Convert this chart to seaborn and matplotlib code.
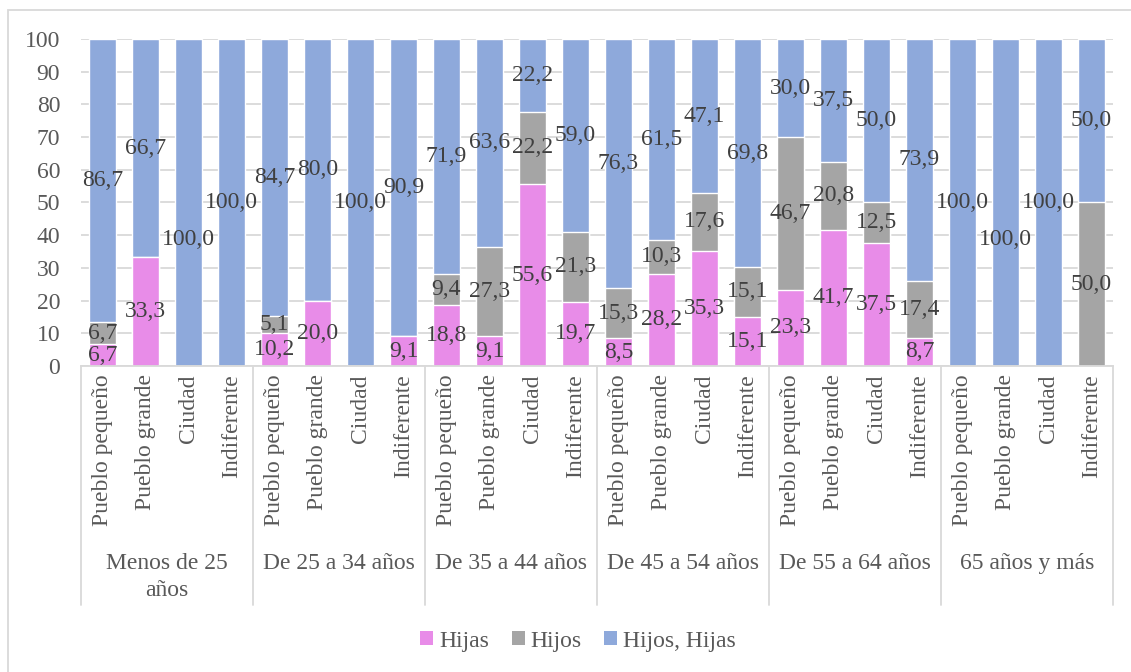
import matplotlib
matplotlib.use("Agg")
import matplotlib.pyplot as plt
import matplotlib.transforms as mtransforms
from matplotlib.patches import Patch, Rectangle
import numpy as np
import pandas as pd
import seaborn as sns

# Age groups and preferred place of residence
grupos = ["Menos de 25\naños", "De 25 a 34 años", "De 35 a 44 años",
          "De 45 a 54 años", "De 55 a 64 años", "65 años y más"]
lugares = ["Pueblo pequeño", "Pueblo grande", "Ciudad", "Indiferente"]

# Percentages per bar (group-major order)
hijas = [6.7, 33.3, 0.0, 0.0,
         10.2, 20.0, 0.0, 9.1,
         18.8, 9.1, 55.6, 19.7,
         8.5, 28.2, 35.3, 15.1,
         23.3, 41.7, 37.5, 8.7,
         0.0, 0.0, 0.0, 0.0]
hijos = [6.7, 0.0, 0.0, 0.0,
         5.1, 0.0, 0.0, 0.0,
         9.4, 27.3, 22.2, 21.3,
         15.3, 10.3, 17.6, 15.1,
         46.7, 20.8, 12.5, 17.4,
         0.0, 0.0, 0.0, 50.0]
ambos = [86.7, 66.7, 100.0, 100.0,
         84.7, 80.0, 100.0, 90.9,
         71.9, 63.6, 22.2, 59.0,
         76.3, 61.5, 47.1, 69.8,
         30.0, 37.5, 50.0, 73.9,
         100.0, 100.0, 100.0, 50.0]

series_names = ["Hijas", "Hijos", "Hijos, Hijas"]
colores = ["#E88CE8", "#A5A5A5", "#8EA9DB"]

sns.set_style("white")
plt.rcParams["font.family"] = ["Liberation Serif", "DejaVu Serif"]

FS = 17
TXT = "#404040"
AXC = "#595959"
LINE = "#D9D9D9"

W, H = 1131, 672
fig = plt.figure(figsize=(W / 100, H / 100), dpi=100)
ax = fig.add_axes([81 / W, 1 - 366 / H, (1113 - 81) / W, (366 - 39) / H])

n = len(grupos) * len(lugares)
slots = [f"{g}|{l}" for g in grupos for l in lugares]
df = pd.DataFrame({
    "slot": slots,
    "hijas": hijas,
    "hijos": hijos,
    "ambos": ambos,
})
df["cum_hijos"] = df["hijas"] + df["hijos"]
df["cum_total"] = df["cum_hijos"] + df["ambos"]

# Stacked bars drawn as overlaid cumulative layers
for col, c in zip(["cum_total", "cum_hijos", "hijas"], colores[::-1]):
    sns.barplot(data=df, x="slot", y=col, order=slots, color=c,
                saturation=1, width=0.65, errorbar=None, ax=ax, zorder=2)

ax.set_xlim(-0.5, n - 0.5)
ax.set_ylim(0, 100)
ax.set_yticks(np.arange(0, 101, 10))
ax.set_yticklabels([str(v) for v in range(0, 101, 10)], fontsize=FS, color=AXC)
ax.tick_params(axis="y", length=0, pad=15)
ax.set_xticks(range(n))
ax.set_xticklabels([l for _ in grupos for l in lugares], rotation=90,
                   fontsize=FS, color=AXC)
ax.tick_params(axis="x", length=0, pad=6)
ax.set_xlabel("")
ax.set_ylabel("")
ax.yaxis.grid(True, color=LINE, lw=1.3)
ax.set_axisbelow(True)
for s in ["left", "right", "top"]:
    ax.spines[s].set_visible(False)
ax.spines["bottom"].set_color(LINE)
ax.spines["bottom"].set_linewidth(1.3)

# Segment value labels
def fmt(v):
    return f"{v:.1f}".replace(".", ",")

label_shift = {2: -11.3, 21: -11.3}
for i in range(n):
    base = 0.0
    for j, vals in enumerate([hijas, hijos, ambos]):
        v = vals[i]
        if v > 0:
            y = base + v / 2
            if j == 2:
                y += label_shift.get(i, 0.0)
            ax.text(i, y, fmt(v), ha="center", va="center",
                    fontsize=FS, color=TXT, zorder=5)
        base += v

# Group separators and group names below the category labels
trans = mtransforms.blended_transform_factory(ax.transData, ax.transAxes)
y_low = (366 - 605) / (366 - 39)
for k in range(len(grupos) + 1):
    xk = k * len(lugares) - 0.5
    ax.plot([xk, xk], [0, y_low], color=LINE, lw=1.3, transform=trans,
            clip_on=False, zorder=1)
y_grp = (366 - 553) / (366 - 39)
for k, g in enumerate(grupos):
    xc = k * len(lugares) + (len(lugares) - 1) / 2
    ax.text(xc, y_grp, g, ha="center", va="top", fontsize=FS, color=AXC,
            transform=trans, linespacing=1.4)

# Legend
handles = [Patch(facecolor=c, edgecolor="none", label=s)
           for s, c in zip(series_names, colores)]
fig.legend(handles=handles, loc="center", bbox_to_anchor=(578 / W, 1 - 641 / H),
           ncol=3, frameon=False, fontsize=FS, handlelength=0.55,
           handleheight=0.55, handletextpad=0.25, columnspacing=0.95,
           labelcolor=AXC)

# Chart area border
fig.patches.append(Rectangle((8 / W, -0.05), 1.2, 1.05 - 10 / H,
                             transform=fig.transFigure, fill=False,
                             edgecolor=LINE, lw=1.3))

fig.savefig("out.png", dpi=100)
